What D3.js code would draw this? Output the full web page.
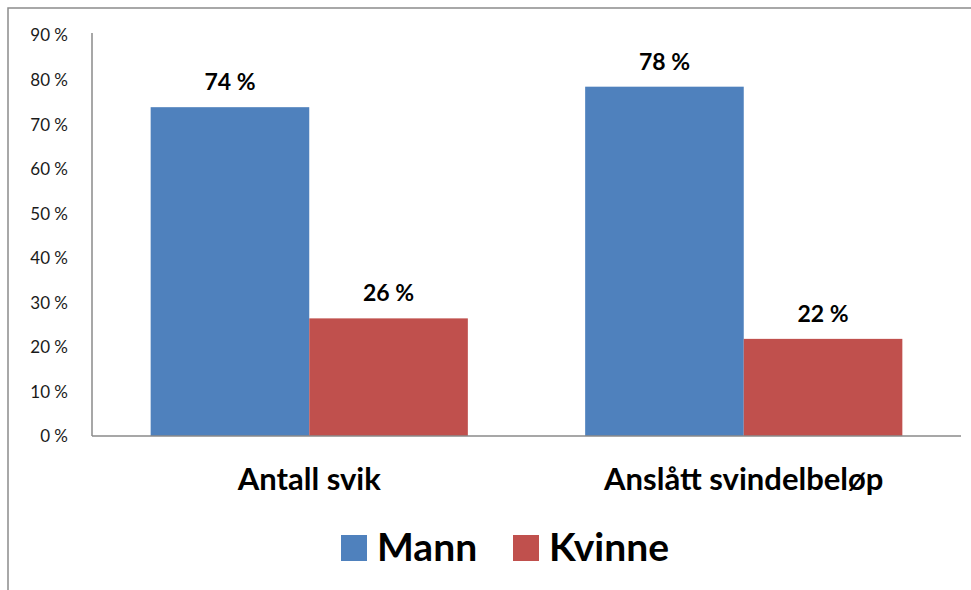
<!DOCTYPE html>
<html>
<head>
<meta charset="utf-8">
<script src="https://cdn.jsdelivr.net/npm/d3@7"></script>
<style>
  body { margin: 0; background: #fff; }
  svg { display: block; }
  text { font-family: Lato, "Open Sans", sans-serif; }
</style>
</head>
<body>
<svg width="971" height="590"></svg>
<script>
// chart data
var categories = ["Antall svik", "Anslått svindelbeløp"];
var seriesNames = ["Mann", "Kvinne"];
var mann = [0.738, 0.784];
var kvinne = [0.264, 0.218];
var yTicks = [0, 0.1, 0.2, 0.3, 0.4, 0.5, 0.6, 0.7, 0.8, 0.9];
var colors = ["#4f81bd", "#c0504d"];

var svg = d3.select("svg");

// outer frame of the chart object
svg.append("rect")
  .attr("x", 8).attr("y", 8)
  .attr("width", 1000).attr("height", 620)
  .attr("fill", "#fff")
  .attr("stroke", "#8c8c8c")
  .attr("stroke-width", 1.5);

var plotLeft = 92, plotRight = 961, plotTop = 35, plotBottom = 436;

var x0 = d3.scaleBand()
  .domain(categories)
  .range([plotLeft, plotRight])
  .paddingInner(0.27)
  .paddingOuter(0.135);

var x1 = d3.scaleBand()
  .domain(seriesNames)
  .range([0, x0.bandwidth()]);

var y = d3.scaleLinear()
  .domain([0, 0.9])
  .range([plotBottom, plotTop]);

var pct = function (v) { return Math.round(v * 100) + " %"; };

// y axis
var yAxis = d3.axisLeft(y)
  .tickValues(yTicks)
  .tickSize(0)
  .tickPadding(24)
  .tickFormat(pct);

var gy = svg.append("g")
  .attr("transform", "translate(" + plotLeft + ",0)")
  .call(yAxis);
gy.select(".domain").remove();
gy.selectAll("text")
  .attr("font-size", "17px")
  .attr("fill", "#1a1a1a")
  .attr("dy", "0.35em");

svg.append("line")
  .attr("x1", plotLeft).attr("x2", plotLeft)
  .attr("y1", plotTop - 2).attr("y2", plotBottom)
  .attr("stroke", "#8a8a8a").attr("stroke-width", 1.5);

// bars
var rows = categories.map(function (c, i) {
  return { cat: c, vals: [mann[i], kvinne[i]] };
});

var groups = svg.append("g").selectAll("g")
  .data(rows)
  .enter().append("g")
  .attr("transform", function (d) { return "translate(" + x0(d.cat) + ",0)"; });

groups.selectAll("rect")
  .data(function (d) { return d.vals.map(function (v, j) { return { s: seriesNames[j], v: v, j: j }; }); })
  .enter().append("rect")
  .attr("x", function (d) { return x1(d.s); })
  .attr("y", function (d) { return y(d.v); })
  .attr("width", x1.bandwidth())
  .attr("height", function (d) { return plotBottom - y(d.v); })
  .attr("fill", function (d) { return colors[d.j]; });

groups.selectAll("text")
  .data(function (d) { return d.vals.map(function (v, j) { return { s: seriesNames[j], v: v }; }); })
  .enter().append("text")
  .attr("x", function (d) { return x1(d.s) + x1.bandwidth() / 2; })
  .attr("y", function (d) { return y(d.v) - 17; })
  .attr("text-anchor", "middle")
  .attr("font-size", "23px")
  .attr("font-weight", "bold")
  .attr("fill", "#000")
  .text(function (d) { return pct(d.v); });

// x axis line
svg.append("line")
  .attr("x1", plotLeft).attr("x2", plotRight)
  .attr("y1", plotBottom).attr("y2", plotBottom)
  .attr("stroke", "#8a8a8a").attr("stroke-width", 1.5);

// category labels
svg.append("g").selectAll("text")
  .data(categories)
  .enter().append("text")
  .attr("x", function (d) { return x0(d) + x0.bandwidth() / 2; })
  .attr("y", 490)
  .attr("text-anchor", "middle")
  .attr("font-size", "31px")
  .attr("font-weight", "bold")
  .attr("fill", "#000")
  .text(function (d) { return d; });

// legend
var legendX = [341, 513];
var legend = svg.append("g").selectAll("g")
  .data(seriesNames)
  .enter().append("g")
  .attr("transform", function (d, i) { return "translate(" + legendX[i] + ",535)"; });

legend.append("rect")
  .attr("width", 26).attr("height", 26)
  .attr("fill", function (d, i) { return colors[i]; });

legend.append("text")
  .attr("x", 36)
  .attr("y", 26)
  .attr("font-size", "39px")
  .attr("font-weight", "bold")
  .attr("fill", "#000")
  .text(function (d) { return d; });
</script>
</body>
</html>
